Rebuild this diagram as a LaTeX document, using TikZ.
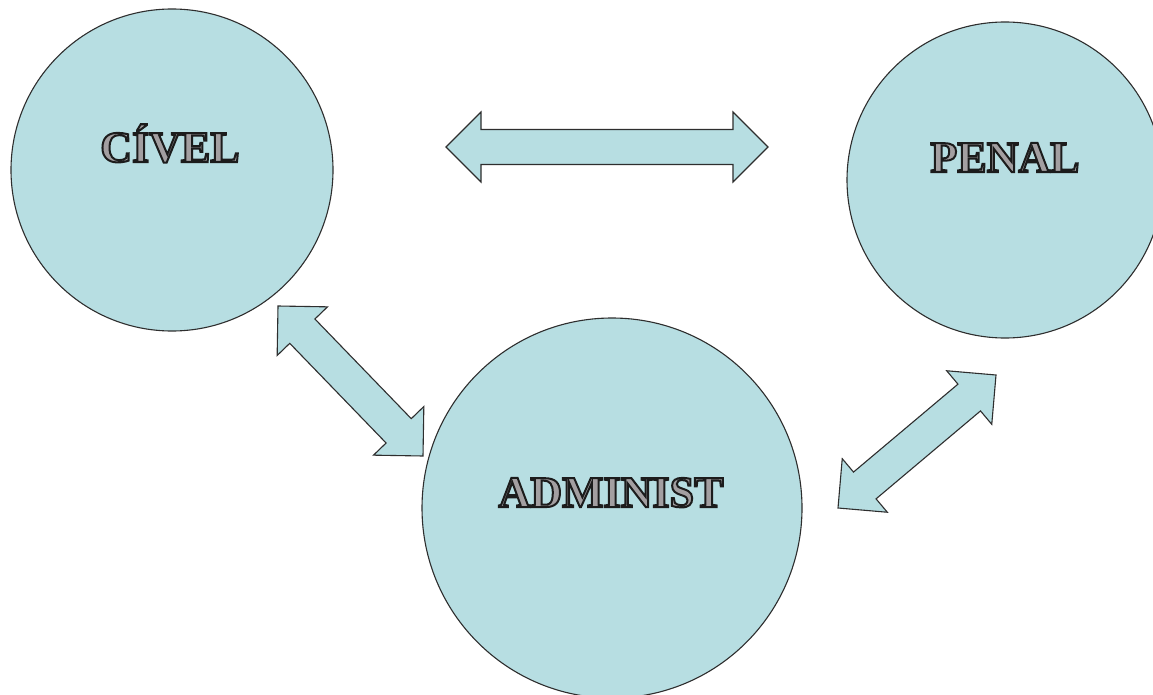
\documentclass[tikz,border=0pt]{standalone}
\usepackage{fontspec}
\setmainfont{Liberation Serif}
\usetikzlibrary{calc}
\definecolor{bluefill}{HTML}{B7DEE2}
\definecolor{edgec}{HTML}{2E2E2E}
\definecolor{fillc}{HTML}{A39FA1}
\newcommand\embossed[1]{\textcolor{fillc}{\special{pdf:literal direct 2 Tr 2 w 0.11 0.11 0.11 RG}#1\special{pdf:literal direct 0 Tr}}}
\newcommand\blockarrow[2]{%
\draw[arrowshape] let \p1=(#1), \p2=(#2), \n1={atan2(\y2-\y1,\x2-\x1)} in
(\p1) -- ($(\p1)+(\n1:35pt)+(\n1+90:35pt)$) -- ($(\p1)+(\n1:35pt)+(\n1+90:17.5pt)$)
-- ($(\p2)+(\n1:-35pt)+(\n1+90:17.5pt)$) -- ($(\p2)+(\n1:-35pt)+(\n1+90:35pt)$)
-- (\p2) -- ($(\p2)+(\n1:-35pt)+(\n1-90:35pt)$) -- ($(\p2)+(\n1:-35pt)+(\n1-90:17.5pt)$)
-- ($(\p1)+(\n1:35pt)+(\n1-90:17.5pt)$) -- ($(\p1)+(\n1:35pt)+(\n1-90:35pt)$) -- cycle;}
\tikzset{
  bubble/.style={circle, draw=edgec, line width=1.1pt, fill=bluefill, inner sep=0pt},
  arrowshape/.style={draw=edgec, line width=1.1pt, fill=bluefill, line join=miter},
  lbl/.style={inner sep=0pt, anchor=base, font=\fontsize{44}{48}\selectfont\bfseries}
}
\begin{document}
\begin{tikzpicture}[x=1pt,y=-1pt]
\fill[white] (0,0) rectangle (1153,695);
\useasboundingbox (0,0) rectangle (1153,695);
\node[bubble, minimum size=322pt] (civel) at (172,170) {};
\node[bubble, minimum size=316pt] (penal) at (1005,180) {};
\node[bubble, minimum size=380pt] (admin) at (612,508) {};
\coordinate (hL) at (446,147);
\coordinate (hR) at (768,147);
\coordinate (d1a) at (278,306);
\coordinate (d1b) at (423,456);
\coordinate (d2a) at (838,508);
\coordinate (d2b) at (996,375);
\blockarrow{hL}{hR}
\blockarrow{d1a}{d1b}
\blockarrow{d2a}{d2b}
\node[lbl] (civelT) at (170,162) {\embossed{CÍVEL}};
\node[lbl] (penalT) at (1005,172) {\embossed{PENAL}};
\node[lbl] (adminT) at (611,507) {\embossed{ADMINIST}};
\end{tikzpicture}
\end{document}
